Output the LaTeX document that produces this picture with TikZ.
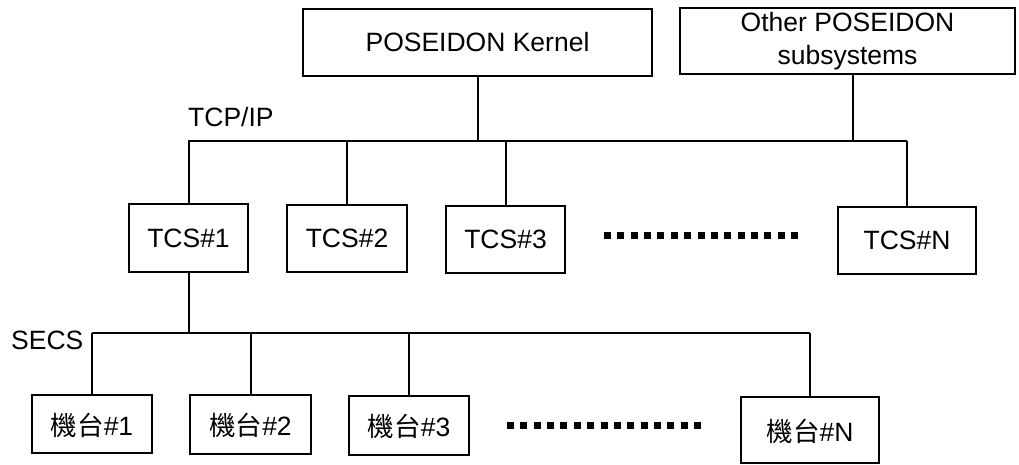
\documentclass[tikz,border=0pt]{standalone}
\usepackage{fontspec}
\setmainfont{Liberation Sans}
\newfontfamily\cjk{Noto Sans CJK TC}
\begin{document}
\begin{tikzpicture}[x=1pt,y=-1pt,
  every node/.style={font=\fontsize{26.5}{33}\selectfont},
  box/.style={draw,line width=2pt,inner sep=0pt,align=center},
  conn/.style={line width=2pt},
  dotrow/.style={line width=7pt,dash pattern=on 7pt off 6.36pt},
  lbl/.style={inner sep=0pt,anchor=west}]
\useasboundingbox (0,0) rectangle (1019,464);
% top level
\node[box,minimum width=349pt,minimum height=67pt] (kernel) at (477.5,42.5) {POSEIDON Kernel};
\node[box,minimum width=335pt,minimum height=66pt] (other) at (847.5,41) {Other POSEIDON\\subsystems};
% TCS level
\node[box,minimum width=119pt,minimum height=68pt] (tcs1) at (188.5,238) {TCS\#1};
\node[box,minimum width=120pt,minimum height=67pt] (tcs2) at (347,238.5) {TCS\#2};
\node[box,minimum width=119pt,minimum height=67pt] (tcs3) at (505.5,239.5) {TCS\#3};
\node[box,minimum width=138pt,minimum height=67pt] (tcsn) at (907,240.5) {TCS\#N};
% machine level
\node[box,minimum width=120pt,minimum height=58pt,text depth=-4pt] (m1) at (92,424) {{\cjk 機台}\#1};
\node[box,minimum width=121pt,minimum height=59pt,text depth=-4pt] (m2) at (250.5,424.5) {{\cjk 機台}\#2};
\node[box,minimum width=120pt,minimum height=59pt,text depth=-4pt] (m3) at (409,425.5) {{\cjk 機台}\#3};
\node[box,minimum width=138pt,minimum height=66pt,text depth=-4pt] (mn) at (810,430) {{\cjk 機台}\#N};
% labels
\node[lbl] (tcpip) at (188,117) {TCP/IP};
\node[lbl] (secs) at (11,340) {SECS};
% TCP/IP bus
\coordinate (tcpL) at (188,141);
\coordinate (tcpR) at (907,141);
\draw[conn] (tcpL) -- (tcpR);
\draw[conn] (kernel.south) -- (kernel.south |- tcpL);
\draw[conn] ([xshift=5.5pt]other.south) -- ([xshift=5.5pt]other.south |- tcpL);
\foreach \n in {tcs1,tcs2,tcs3,tcsn}
  \draw[conn] (\n.north) -- (\n.north |- tcpL);
% SECS bus
\coordinate (secsL) at (92,333);
\coordinate (secsR) at (810,333);
\draw[conn] (secsL) -- (secsR);
\draw[conn] (tcs1.south) -- (tcs1.south |- secsL);
\foreach \n in {m1,m2,m3,mn}
  \draw[conn] (\n.north) -- (\n.north |- secsL);
% ellipsis dots
\coordinate (d1a) at (604,235); \coordinate (d1b) at (798,235);
\draw[dotrow] (d1a) -- (d1b);
\coordinate (d2a) at (507,425); \coordinate (d2b) at (701,425);
\draw[dotrow] (d2a) -- (d2b);
\end{tikzpicture}
\end{document}
